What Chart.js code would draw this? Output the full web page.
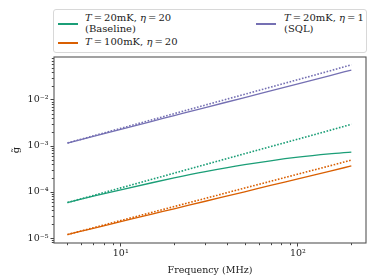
<!DOCTYPE html>
<html lang="en">
<head>
<meta charset="UTF-8">
<title>g vs frequency</title>
<script src="https://cdn.jsdelivr.net/npm/chart.js"></script>
<style>
    body { margin: 0; background: #fff; }
    #wrap { position: relative; width: 374px; height: 280px; }
    #legend {
        position: absolute; left: 53px; top: 9px; width: 312px; height: 42px;
        border: 1px solid #d8d8d8; border-radius: 3px; background: #fff;
        font-family: "DejaVu Serif", serif; font-size: 10px; line-height: 11px; color: #222;
    }
    .swatch { position: absolute; width: 20px; height: 1.5px; }
    .lbl { position: absolute; white-space: nowrap; }
    i { font-style: italic; }
</style>
</head>
<body>
<div id="wrap">
    <canvas id="chart" width="374" height="280"></canvas>
    <div id="legend">
        <div class="swatch" style="left:4px;top:13px;background:#1b9e77"></div>
        <div class="lbl" style="left:31px;top:2px"><i>T</i>&thinsp;=&thinsp;20mK, <i>η</i>&thinsp;=&thinsp;20<br>(Baseline)</div>
        <div class="swatch" style="left:4px;top:32px;background:#d95f02"></div>
        <div class="lbl" style="left:31px;top:26px"><i>T</i>&thinsp;=&thinsp;100mK, <i>η</i>&thinsp;=&thinsp;20</div>
        <div class="swatch" style="left:202px;top:13px;background:#7570b3"></div>
        <div class="lbl" style="left:230px;top:2px"><i>T</i>&thinsp;=&thinsp;20mK, <i>η</i>&thinsp;=&thinsp;1<br>(SQL)</div>
    </div>
</div>
<script>
    // frequency points (MHz)
    const freq = [5, 7, 10, 15, 20, 30, 50, 70, 100, 150, 200];

    // T = 20mK, eta = 20 (Baseline)
    const baseline = [5.9e-5, 8.1e-5, 1.12e-4, 1.59e-4, 2.02e-4, 2.76e-4, 3.92e-4, 4.77e-4, 5.71e-4, 6.73e-4, 7.4e-4];
    const baselineDot = [5.9e-5, 8.4e-5, 1.23e-4, 1.89e-4, 2.57e-4, 3.95e-4, 6.8e-4, 9.7e-4, 1.41e-3, 2.17e-3, 2.96e-3];

    // T = 100mK, eta = 20
    const warm = [1.19e-5, 1.63e-5, 2.27e-5, 3.31e-5, 4.32e-5, 6.3e-5, 1.01e-4, 1.39e-4, 1.93e-4, 2.82e-4, 3.68e-4];
    const warmDot = [1.19e-5, 1.67e-5, 2.40e-5, 3.61e-5, 4.83e-5, 7.27e-5, 1.22e-4, 1.71e-4, 2.45e-4, 3.68e-4, 4.94e-4];

    // T = 20mK, eta = 1 (SQL)
    const sql = [1.16e-3, 1.62e-3, 2.30e-3, 3.44e-3, 4.58e-3, 6.85e-3, 1.13e-2, 1.58e-2, 2.25e-2, 3.36e-2, 4.47e-2];
    const sqlDot = [1.16e-3, 1.66e-3, 2.42e-3, 3.71e-3, 5.05e-3, 7.76e-3, 1.33e-2, 1.9e-2, 2.77e-2, 4.26e-2, 5.81e-2];

    const xMajor = [10, 100];
    const xMajorLabels = ['10¹', '10²'];
    const yMajor = [1e-5, 1e-4, 1e-3, 1e-2];
    const yMajorLabels = ['10⁻⁵', '10⁻⁴', '10⁻³', '10⁻²'];

    const xMin = 4.2, xMax = 242, yMin = 7.8e-6, yMax = 0.086;
    const FONT = "'DejaVu Serif', serif";

    function minorTicks(lo, hi) {
        let out = [];
        for (let e = -7; e <= 3; e++) {
            for (let m = 2; m <= 9; m++) {
                let v = m * Math.pow(10, e);
                if (v >= lo && v <= hi) out.push(v);
            }
        }
        return out;
    }

    function pts(ys) {
        return freq.map((f, i) => ({ x: f, y: ys[i] }));
    }

    function series(ys, color, dotted) {
        return {
            data: pts(ys),
            borderColor: color,
            borderWidth: dotted ? 1.6 : 1.3,
            borderDash: dotted ? [1.6, 1.6] : [],
            pointRadius: 0,
            fill: false,
            cubicInterpolationMode: 'monotone'
        };
    }

    // frame + minor tick marks
    const framePlugin = {
        id: 'frame',
        afterDraw(chart) {
            const { ctx, chartArea: a, scales } = chart;
            ctx.save();
            ctx.strokeStyle = '#444';
            ctx.lineWidth = 1;
            minorTicks(xMin, xMax).forEach(v => {
                let x = Math.round(scales.x.getPixelForValue(v)) + 0.5;
                ctx.beginPath(); ctx.moveTo(x, a.bottom); ctx.lineTo(x, a.bottom + 2.2); ctx.stroke();
            });
            minorTicks(yMin, yMax).forEach(v => {
                let y = Math.round(scales.y.getPixelForValue(v)) + 0.5;
                ctx.beginPath(); ctx.moveTo(a.left, y); ctx.lineTo(a.left - 2.2, y); ctx.stroke();
            });
            ctx.strokeStyle = '#555';
            ctx.lineWidth = 1.1;
            ctx.strokeRect(a.left, a.top, a.right - a.left, a.bottom - a.top);
            ctx.restore();
        }
    };

    new Chart(document.getElementById('chart'), {
        type: 'line',
        data: {
            datasets: [
                series(baselineDot, '#1b9e77', true),
                series(baseline, '#1b9e77', false),
                series(warmDot, '#d95f02', true),
                series(warm, '#d95f02', false),
                series(sqlDot, '#7570b3', true),
                series(sql, '#7570b3', false)
            ]
        },
        options: {
            responsive: false,
            animation: false,
            events: [],
            layout: { padding: { top: 57, right: 8, left: 0, bottom: 0 } },
            plugins: { legend: { display: false }, tooltip: { enabled: false } },
            scales: {
                x: {
                    type: 'logarithmic',
                    min: xMin, max: xMax,
                    afterBuildTicks: s => { s.ticks = xMajor.map(v => ({ value: v })); },
                    afterFit: s => { s.height = 37; },
                    ticks: {
                        autoSkip: false, maxRotation: 0, padding: 1,
                        color: '#222', font: { family: FONT, size: 9.5 },
                        callback: (v) => xMajorLabels[xMajor.indexOf(v)] || ''
                    },
                    grid: { drawOnChartArea: false, tickLength: 3.5, tickColor: '#444', tickWidth: 1 },
                    border: { display: false },
                    title: { display: true, text: 'Frequency (MHz)', color: '#222', font: { family: FONT, size: 9.5 }, padding: { top: 2 } }
                },
                y: {
                    type: 'logarithmic',
                    min: yMin, max: yMax,
                    afterBuildTicks: s => { s.ticks = yMajor.map(v => ({ value: v })); },
                    afterFit: s => { s.width = 54; },
                    ticks: {
                        autoSkip: false, padding: 2,
                        color: '#222', font: { family: FONT, size: 9.5 },
                        callback: (v) => yMajorLabels[yMajor.indexOf(v)] || ''
                    },
                    grid: { drawOnChartArea: false, tickLength: 3.5, tickColor: '#444', tickWidth: 1 },
                    border: { display: false },
                    title: { display: true, text: 'g̃', color: '#222', font: { family: FONT, size: 10 }, padding: { bottom: 0, top: 10 } }
                }
            }
        },
        plugins: [framePlugin]
    });
</script>
</body>
</html>
